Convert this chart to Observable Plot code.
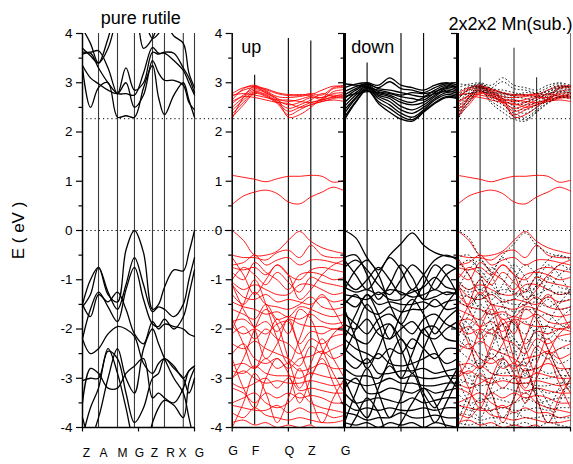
<!DOCTYPE html>
<html><head><meta charset="utf-8">
<script src="https://cdn.jsdelivr.net/npm/d3@7"></script>
<script src="https://cdn.jsdelivr.net/npm/@observablehq/plot@0.6"></script>
<style>body{margin:0;background:#fff;}#chart{width:573px;height:464px;}</style>
</head><body><div id="chart"></div>
<script>
// ---------------- DATA ----------------
const panelTitles = ["pure rutile", "up", "down", "2x2x2 Mn(sub.)"];
const yLabel = "E ( eV )";
const yMajorTicks = [-4, -3, -2, -1, 0, 1, 2, 3, 4];
const yMinorTicks = [-3.5, -2.5, -1.5, -0.5, 0.5, 1.5, 2.5, 3.5];
const referenceLevels = [0, 2.27];

// pure rutile: k-path and bands (E in eV at grid fractions)
const rutileKLabels = ["Z", "A", "M", "G", "Z", "R", "X", "G"];
const rutileKPos = [0, 0.143, 0.3125, 0.464, 0.625, 0.732, 0.9, 1];
const rutileLabelPos = [0.036, 0.188, 0.357, 0.509, 0.643, 0.786, 0.893, 1.045];
const rutileGrid = [0, 0.071, 0.143, 0.228, 0.3125, 0.388, 0.464, 0.545, 0.625, 0.679, 0.732, 0.816, 0.9, 0.95, 1];
const rutileConduction = [
  [3.3, 2.5, 2.9, 3.0, 2.3, 2.33, 2.3, 2.9, 3.35, 2.7, 2.35, 2.75, 3.0, 2.65, 2.3],
  [3.35, 3.1, 2.98, 2.85, 2.78, 3.0, 2.5, 2.75, 3.45, 3.2, 3.05, 3.05, 2.95, 2.6, 2.45],
  [3.58, 3.6, 3.3, 3.0, 2.78, 2.78, 2.75, 3.2, 3.72, 3.6, 3.6, 3.45, 3.25, 3.0, 2.75],
  [3.62, 3.62, 3.65, 3.3, 2.78, 3.3, 2.85, 3.0, 3.62, 3.58, 3.62, 3.6, 3.3, 3.1, 2.8],
  [4.1, 3.8, 3.4, 3.9, 4.5, 4.5, 4.5, 4.3, 3.9, 4.0, 4.2, 3.95, 3.8, 3.2, 2.9],
  [3.7, 3.55, 3.4, 3.7, 4.3, 4.5, 4.5, 3.7, 3.9, 4.2, 4.3, 4.3, 4.4, 4.2, 4.1]
];
const rutileValence = [
  [-1.5, -1.0, -0.75, -1.3, -1.45, -0.4, 0.0, -0.45, -1.6, -1.5, -1.15, -0.8, -0.82, -0.45, 0.0],
  [-1.55, -1.3, -0.75, -1.25, -1.6, -1.1, -0.55, -1.1, -1.65, -1.55, -1.6, -1.75, -1.5, -1.0, -0.55],
  [-2.2, -1.6, -1.25, -1.55, -1.85, -1.2, -0.75, -1.4, -1.9, -1.95, -1.8, -2.0, -1.75, -1.3, -0.8],
  [-1.5, -1.75, -1.3, -1.45, -1.25, -1.6, -2.1, -2.3, -1.85, -2.0, -1.9, -1.95, -2.0, -2.1, -2.15],
  [-2.2, -2.5, -2.4, -2.1, -1.95, -2.0, -2.15, -2.7, -2.9, -2.7, -2.6, -2.75, -3.0, -2.85, -2.75],
  [-3.05, -3.0, -3.0, -2.45, -2.6, -3.3, -3.9, -3.6, -3.0, -2.9, -2.6, -2.8, -3.0, -3.3, -3.0],
  [-3.5, -2.8, -2.9, -3.2, -3.2, -2.9, -2.75, -2.6, -3.4, -3.3, -3.4, -3.5, -3.2, -2.85, -2.75],
  [-4.2, -3.6, -3.2, -2.4, -2.9, -3.6, -4.3, -4.5, -3.9, -3.6, -3.45, -3.55, -3.8, -3.1, -2.8],
  [-3.8, -4.2, -3.8, -3.0, -2.4, -3.0, -3.3, -2.4, -2.0, -2.3, -2.6, -3.0, -3.3, -3.8, -4.3]
];

// Mn-doped supercell: k-path G F Q Z G
const cellKLabels = ["G", "F", "Q", "Z", "G"];
const cellKPos = [0, 0.2, 0.5, 0.7, 1];
const cellGrid = [0, 0.1, 0.2, 0.3, 0.4, 0.5, 0.6, 0.7, 0.8, 0.9, 1];

const upConduction = [
  [2.78, 2.9, 2.92, 2.88, 2.8, 2.76, 2.76, 2.76, 2.85, 2.93, 2.92],
  [2.72, 2.85, 2.9, 2.86, 2.78, 2.74, 2.74, 2.78, 2.75, 2.9, 2.95],
  [2.65, 2.88, 2.95, 2.84, 2.72, 2.7, 2.72, 2.75, 2.7, 2.88, 2.9],
  [2.58, 2.75, 2.88, 2.82, 2.68, 2.62, 2.66, 2.72, 2.66, 2.82, 2.86],
  [2.5, 2.7, 2.85, 2.8, 2.65, 2.55, 2.6, 2.7, 2.7, 2.78, 2.8],
  [2.44, 2.65, 2.82, 2.76, 2.62, 2.48, 2.55, 2.65, 2.78, 2.72, 2.75],
  [2.37, 2.6, 2.8, 2.74, 2.6, 2.42, 2.5, 2.6, 2.65, 2.7, 2.68],
  [2.3, 2.55, 2.78, 2.72, 2.58, 2.35, 2.45, 2.56, 2.62, 2.65, 2.62],
  [2.28, 2.7, 2.93, 2.78, 2.68, 2.3, 2.35, 2.5, 2.68, 2.75, 2.7],
  [2.75, 2.78, 2.75, 2.7, 2.65, 2.65, 2.62, 2.6, 2.65, 2.72, 2.78],
  [2.62, 2.72, 2.7, 2.65, 2.6, 2.58, 2.5, 2.55, 2.62, 2.68, 2.72]
];
const upGapStates = [
  [1.12, 1.08, 1.04, 0.99, 1.05, 1.1, 1.1, 1.12, 1.1, 0.98, 1.02],
  [0.53, 0.7, 0.78, 0.82, 0.75, 0.58, 0.54, 0.68, 0.78, 0.88, 0.8]
];
const upValence = [
  [0.0, -0.2, -0.5, -0.5, -0.42, -0.2, -0.02, -0.22, -0.35, -0.42, -0.47],
  [-0.5, -0.55, -0.55, -0.6, -0.45, -0.4, -0.55, -0.3, -0.5, -0.55, -0.55],
  [-0.7, -0.65, -0.5, -0.7, -0.6, -0.55, -0.7, -0.6, -0.6, -0.65, -0.7],
  [-0.75, -0.8, -0.75, -0.9, -0.7, -0.9, -1.0, -0.8, -0.75, -0.8, -0.85],
  [-0.85, -1.0, -0.65, -0.85, -1.0, -1.2, -0.9, -0.85, -0.9, -1.0, -0.95],
  [-1.0, -0.75, -0.9, -1.1, -0.85, -1.05, -1.25, -0.95, -1.05, -1.1, -1.15],
  [-1.05, -1.2, -1.1, -1.2, -1.3, -1.3, -1.1, -1.1, -1.2, -1.3, -1.25],
  [-1.1, -1.35, -1.4, -1.3, -1.45, -1.4, -1.45, -1.5, -1.35, -1.45, -1.4],
  [-1.3, -1.5, -1.25, -1.5, -1.55, -1.6, -1.5, -1.35, -1.55, -1.6, -1.55],
  [-1.45, -1.55, -1.6, -1.7, -1.65, -1.75, -1.55, -1.6, -1.7, -1.75, -1.7],
  [-1.6, -1.7, -1.8, -1.5, -1.8, -1.75, -1.8, -1.7, -1.85, -1.9, -1.85],
  [-1.85, -1.8, -1.95, -1.85, -2.05, -1.8, -1.9, -1.95, -1.95, -2.0, -1.95],
  [-1.95, -2.1, -2.0, -2.1, -1.9, -1.85, -2.3, -2.05, -2.1, -2.0, -2.05],
  [-2.1, -1.95, -2.2, -2.0, -2.2, -2.3, -2.5, -2.2, -2.3, -2.15, -2.1],
  [-2.3, -2.4, -2.25, -2.4, -2.5, -2.6, -2.75, -2.35, -2.5, -2.4, -2.3],
  [-2.5, -2.3, -2.6, -2.7, -2.6, -2.8, -2.6, -2.55, -2.45, -2.6, -2.5],
  [-2.75, -2.7, -2.8, -2.6, -2.8, -2.7, -2.85, -2.8, -2.7, -2.8, -2.8],
  [-2.85, -2.9, -2.75, -2.9, -2.95, -2.95, -3.0, -2.9, -2.95, -3.0, -3.0],
  [-3.0, -2.85, -3.0, -3.1, -3.05, -3.1, -3.1, -3.05, -3.1, -3.15, -3.1],
  [-3.1, -3.2, -3.1, -3.0, -3.2, -3.0, -3.25, -3.2, -3.25, -3.3, -3.3],
  [-3.2, -3.3, -3.5, -3.3, -3.4, -3.3, -3.4, -3.35, -3.4, -3.5, -3.5],
  [-3.5, -3.4, -3.3, -3.5, -3.6, -3.5, -3.3, -3.5, -3.6, -3.65, -3.7],
  [-3.55, -3.6, -3.65, -3.65, -3.55, -3.7, -3.6, -3.7, -3.7, -3.8, -3.75],
  [-3.7, -3.8, -3.6, -3.75, -3.8, -3.85, -3.8, -3.85, -3.9, -3.9, -3.85],
  [-3.9, -3.85, -3.95, -3.9, -4.0, -3.95, -4.0, -3.95, -4.1, -4.0, -4.1],
  [-1.1, -1.6, -2.0, -2.6, -2.3, -1.8, -2.4, -2.9, -2.5, -2.1, -1.9],
  [-2.0, -1.5, -1.0, -1.5, -2.2, -2.7, -2.2, -1.6, -1.3, -1.6, -2.0],
  [-3.0, -2.6, -2.0, -1.6, -1.9, -2.6, -3.2, -2.7, -2.2, -2.6, -3.0],
  [-2.6, -3.2, -3.6, -3.0, -2.6, -2.9, -3.5, -3.0, -2.6, -3.1, -3.6],
  [-4.0, -3.5, -2.9, -3.3, -3.9, -3.4, -2.8, -3.4, -3.9, -3.4, -3.0],
  [-0.55, -0.9, -1.3, -1.0, -0.7, -0.9, -1.4, -1.2, -0.9, -0.7, -0.6],
  [-1.8, -2.3, -2.8, -2.3, -1.8, -2.1, -1.6, -1.8, -2.4, -2.9, -3.3]
];

const downConduction = [
  [2.9, 2.97, 3.0, 2.95, 3.1, 2.95, 2.9, 2.85, 2.95, 3.0, 2.95],
  [2.82, 2.92, 2.98, 2.9, 3.02, 2.88, 2.85, 2.8, 2.9, 2.98, 2.9],
  [2.75, 2.88, 2.97, 2.88, 2.85, 2.8, 2.75, 2.72, 2.85, 2.95, 2.88],
  [2.68, 2.85, 2.95, 2.82, 2.78, 2.72, 2.68, 2.65, 2.8, 2.92, 2.85],
  [2.6, 2.8, 2.93, 2.78, 2.72, 2.6, 2.55, 2.6, 2.75, 2.88, 2.82],
  [2.52, 2.75, 2.92, 2.75, 2.68, 2.52, 2.45, 2.55, 2.72, 2.85, 2.78],
  [2.45, 2.7, 2.9, 2.72, 2.62, 2.45, 2.38, 2.5, 2.68, 2.8, 2.75],
  [2.38, 2.68, 2.88, 2.68, 2.55, 2.38, 2.3, 2.45, 2.65, 2.76, 2.72],
  [2.3, 2.62, 2.86, 2.62, 2.48, 2.32, 2.25, 2.42, 2.6, 2.72, 2.7],
  [2.25, 2.6, 2.85, 2.58, 2.4, 2.26, 2.22, 2.4, 2.58, 2.7, 2.68],
  [2.98, 2.95, 2.9, 2.85, 2.8, 2.75, 2.8, 2.78, 2.82, 2.9, 2.93],
  [2.72, 2.78, 2.82, 2.8, 2.75, 2.65, 2.6, 2.7, 2.78, 2.82, 2.8]
];
const downValence = [
  [0.0, -0.15, -0.55, -0.8, -0.5, -0.27, -0.05, -0.3, -0.45, -0.52, -0.55],
  [-0.6, -0.9, -1.2, -0.9, -0.55, -0.8, -1.2, -0.9, -0.6, -0.5, -0.6],
  [-0.75, -0.6, -0.8, -1.1, -1.3, -1.0, -0.7, -0.9, -1.2, -0.9, -0.75],
  [-1.0, -1.2, -1.0, -0.75, -1.0, -1.3, -1.25, -1.15, -0.95, -1.15, -1.2],
  [-1.15, -1.25, -1.2, -1.3, -1.2, -1.25, -1.35, -1.3, -1.2, -1.3, -1.25],
  [-1.3, -1.35, -1.4, -1.25, -1.4, -1.4, -1.2, -1.4, -1.35, -1.25, -1.3],
  [-1.4, -1.55, -1.3, -1.5, -1.45, -1.5, -1.5, -1.45, -1.55, -1.45, -1.4],
  [-1.5, -1.3, -1.6, -1.7, -1.55, -1.65, -1.6, -1.6, -1.4, -1.6, -1.55],
  [-1.7, -1.9, -2.1, -1.8, -1.7, -1.9, -2.1, -1.8, -1.7, -1.9, -2.0],
  [-1.9, -2.0, -1.8, -2.1, -2.2, -2.0, -1.85, -2.1, -2.2, -2.0, -1.85],
  [-2.0, -2.2, -2.3, -2.0, -1.9, -2.2, -2.4, -2.0, -1.95, -2.2, -2.25],
  [-2.2, -2.4, -2.5, -2.6, -2.4, -2.5, -2.2, -2.4, -2.6, -2.4, -2.4],
  [-2.4, -2.6, -2.7, -2.5, -2.7, -2.75, -2.7, -2.6, -2.5, -2.7, -2.6],
  [-2.6, -2.8, -2.6, -2.9, -2.9, -2.85, -2.85, -2.8, -2.9, -2.85, -2.8],
  [-2.8, -2.95, -2.95, -3.0, -2.75, -3.0, -2.95, -3.0, -3.0, -2.95, -2.95],
  [-3.0, -3.1, -3.15, -3.1, -3.0, -3.1, -3.1, -3.15, -3.15, -3.1, -3.1],
  [-3.2, -3.0, -3.3, -3.3, -3.2, -3.25, -3.3, -3.2, -3.3, -3.25, -3.2],
  [-3.3, -3.5, -3.45, -3.4, -3.45, -3.5, -3.4, -3.5, -3.45, -3.4, -3.4],
  [-3.5, -3.65, -3.6, -3.65, -3.6, -3.65, -3.65, -3.6, -3.65, -3.6, -3.6],
  [-3.7, -3.75, -3.85, -3.8, -3.8, -3.7, -3.8, -3.8, -3.75, -3.8, -3.8],
  [-3.9, -3.95, -3.9, -4.0, -3.9, -3.95, -3.9, -4.0, -3.9, -3.95, -4.0],
  [-1.6, -2.2, -2.8, -2.4, -1.9, -2.4, -2.9, -2.4, -1.9, -1.5, -1.2],
  [-2.5, -2.0, -1.5, -1.9, -2.6, -3.0, -2.5, -2.0, -2.4, -2.9, -3.2],
  [-3.0, -3.5, -3.8, -3.2, -2.6, -2.2, -2.7, -3.3, -3.6, -3.2, -2.8],
  [-3.9, -3.3, -2.8, -3.3, -3.8, -3.4, -2.9, -3.4, -3.9, -3.5, -3.0],
  [-1.2, -0.8, -0.6, -0.9, -1.5, -1.9, -1.5, -1.1, -0.7, -0.9, -1.3],
  [-2.2, -1.7, -1.3, -1.7, -2.2, -1.7, -1.4, -1.7, -2.1, -1.8, -1.6],
  [-4.2, -3.8, -3.4, -3.7, -4.2, -3.9, -3.5, -3.2, -3.5, -4.0, -4.3],
  [-0.55, -0.5, -0.9, -1.4, -1.1, -0.7, -0.95, -1.4, -1.0, -0.7, -0.8]
];

// top ends of the k-point guide lines (eV) in each supercell panel
const upKLineTops = [3.15, 3.9, 3.85];
const downKLineTops = [3.4, 4, 4];
const mnKLineTops = [3.3, 3.7, 3.1, 4];

// ---------------- LAYOUT ----------------
const W = 573, H = 464;
const panels = [
  {left: 82, width: 112},
  {left: 231.7, width: 112.3},
  {left: 344, width: 113},
  {left: 457, width: 113}
];
const px = (p, f) => panels[p].left + f * panels[p].width;

function bandRows(bands, grid, p, tag) {
  return bands.flatMap((b, i) => b.map((e, j) => ({x: px(p, grid[j]), y: e, band: tag + i})));
}

const rutileRows = bandRows(rutileConduction.concat(rutileValence), rutileGrid, 0, "r");
const upBands = upConduction.concat(upGapStates, upValence);
const downBands = downConduction.concat(downValence);
const upRows = bandRows(upBands, cellGrid, 1, "u");
const downRows = bandRows(downBands, cellGrid, 2, "d");
const mnUpRows = bandRows(upBands, cellGrid, 3, "mu");
const mnDownRows = bandRows(downBands, cellGrid, 3, "md");

// k-point guide lines
const kLines = [];
rutileKPos.slice(1).forEach(f => kLines.push({x: px(0, f), y1: -4, y2: 4, c: "#3a3a3a"}));
cellKPos.slice(1, 4).forEach((f, i) => kLines.push({x: px(1, f), y1: -3.95, y2: upKLineTops[i], c: "#000"}));
cellKPos.slice(1, 4).forEach((f, i) => kLines.push({x: px(2, f), y1: -4, y2: downKLineTops[i], c: "#000"}));
cellKPos.slice(1).forEach((f, i) => kLines.push({x: px(3, f), y1: -4, y2: mnKLineTops[i], c: i === 3 ? "#777" : "#333"}));

// axis lines
const axisLines = [
  {x: panels[0].left, w: 1.5}, {x: panels[1].left, w: 1.5},
  {x: panels[2].left, w: 3}, {x: panels[3].left, w: 3}
];
const tickRows = [];
panels.forEach((p) => {
  yMajorTicks.forEach(v => tickRows.push({y: v, x1: p.left - 6, x2: p.left}));
  yMinorTicks.forEach(v => tickRows.push({y: v, x1: p.left - 3.5, x2: p.left}));
});
const labelRows = [];
[0, 1].forEach(i => yMajorTicks.forEach(v => labelRows.push({y: v, x: panels[i].left - 10, t: String(v)})));

const bottomTicks = [
  px(0, 0), px(0, 0.5), px(0, 1),
  px(1, 0), px(1, 0.5), px(1, 1), px(2, 0.5), px(2, 1), px(3, 0.5), px(3, 1)
];

const rutileLabelRows = rutileKLabels.map((t, i) => ({x: px(0, rutileLabelPos[i]), t}));
const cellLabelRows = cellKLabels.map((t, i) => ({x: px(1, cellKPos[i]) + 1, t}));

const titleMiddle = [{x: px(0, 0.52), y: 4.32, t: panelTitles[0]}];
const titleStart = [
  {x: px(1, 0.08), y: 3.72, t: panelTitles[1]},
  {x: px(2, 0.06), y: 3.72, t: panelTitles[2]},
  {x: px(3, -0.08), y: 4.18, t: panelTitles[3]}
];

const font = "Liberation Sans, Arial, Helvetica, sans-serif";

const chart = Plot.plot({
  width: W, height: H,
  marginLeft: 0, marginRight: 0, marginTop: 33, marginBottom: 37,
  style: {fontFamily: font, background: "#fff", overflow: "visible"},
  x: {type: "linear", domain: [0, W], axis: null},
  y: {domain: [-4, 4], axis: null},
  marks: [
    Plot.ruleY(referenceLevels, {x1: panels[0].left, x2: px(3, 1), stroke: "#000", strokeWidth: 1, strokeDasharray: "1.2,3"}),
    Plot.ruleX(kLines, {x: "x", y1: "y1", y2: "y2", stroke: "c", strokeWidth: 1.1}),
    Plot.line(rutileRows, {x: "x", y: "y", z: "band", stroke: "#000", strokeWidth: 1.3, curve: "catmull-rom", clip: true}),
    Plot.line(upRows, {x: "x", y: "y", z: "band", stroke: "#ff0000", strokeWidth: 0.9, curve: "catmull-rom", clip: true}),
    Plot.line(downRows, {x: "x", y: "y", z: "band", stroke: "#000", strokeWidth: 1.3, curve: "catmull-rom", clip: true}),
    Plot.line(mnUpRows, {x: "x", y: "y", z: "band", stroke: "#ff0000", strokeWidth: 0.9, curve: "catmull-rom", clip: true}),
    Plot.line(mnDownRows, {x: "x", y: "y", z: "band", stroke: "#000", strokeWidth: 0.9, strokeDasharray: "0.9,2.8", curve: "catmull-rom", clip: true}),
    Plot.ruleX(axisLines, {x: "x", y1: -4, y2: 4, stroke: "#000", strokeWidth: "w"}),
    Plot.ruleY([-4], {x1: panels[0].left, x2: px(0, 1), stroke: "#000", strokeWidth: 1.5}),
    Plot.ruleY([-4], {x1: panels[1].left, x2: px(3, 1), stroke: "#000", strokeWidth: 1.5}),
    Plot.ruleY(tickRows, {y: "y", x1: "x1", x2: "x2", stroke: "#000", strokeWidth: 1.2}),
    Plot.ruleX(bottomTicks, {x: d => d, y1: -4, y2: -4.09, stroke: "#000", strokeWidth: 1.2}),
    Plot.text(labelRows, {x: "x", y: "y", text: "t", textAnchor: "end", fontSize: 13.5, fill: "#000"}),
    Plot.text(rutileLabelRows, {x: "x", y: -4, dy: 26, text: "t", fontSize: 12, fill: "#000"}),
    Plot.text(cellLabelRows, {x: "x", y: -4, dy: 23, text: "t", fontSize: 12.5, fill: "#000"}),
    Plot.text(titleMiddle, {x: "x", y: "y", text: "t", textAnchor: "middle", fontSize: 18, fill: "#000"}),
    Plot.text(titleStart, {x: "x", y: "y", text: "t", textAnchor: "start", fontSize: 18, fill: "#000"}),
    Plot.text([yLabel], {x: 18, y: 0, text: d => d, rotate: -90, fontSize: 17, fill: "#000"})
  ]
});
document.getElementById("chart").appendChild(chart);
</script>
</body></html>
